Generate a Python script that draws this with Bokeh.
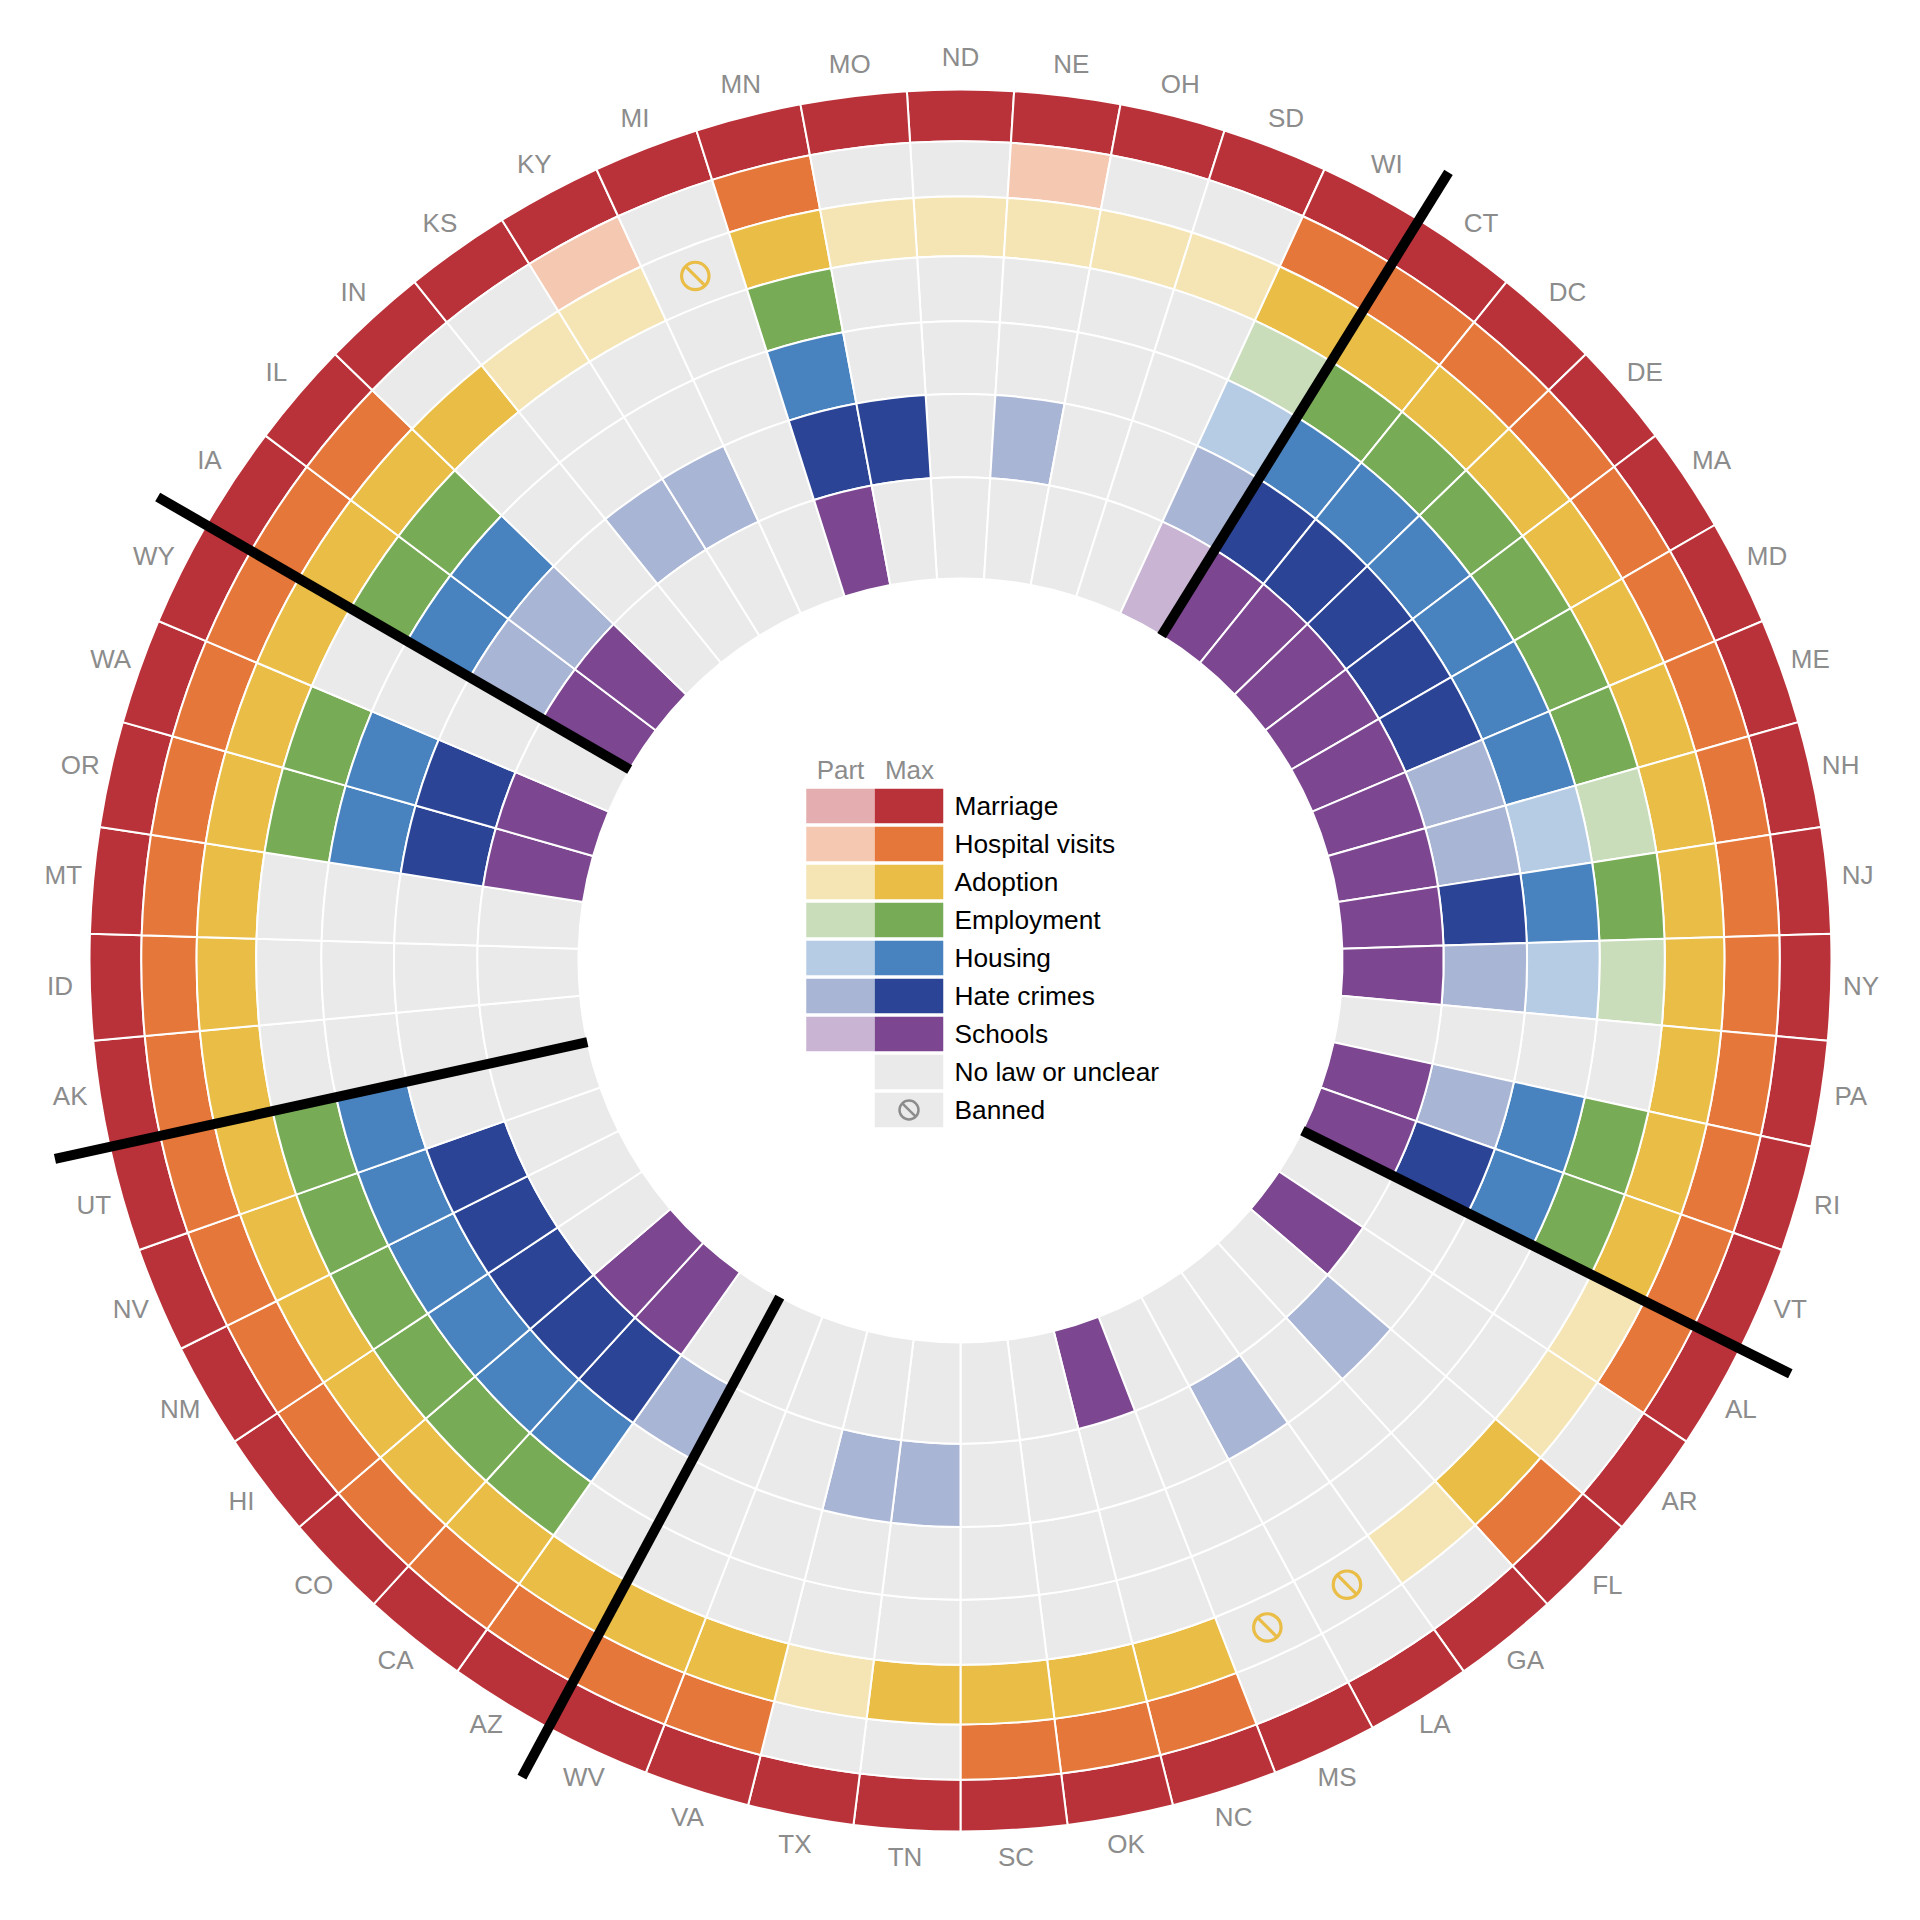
import math
from bokeh.plotting import figure
from bokeh.models import Range1d
from bokeh.core.properties import value
from bokeh.embed import file_html
from bokeh.resources import INLINE

states = ["ND","NE","OH","SD","WI","CT","DC","DE","MA","MD","ME","NH","NJ","NY","PA","RI","VT",
          "AL","AR","FL","GA","LA","MS","NC","OK","SC","TN","TX","VA","WV","AZ","CA","CO","HI",
          "NM","NV","UT","AK","ID","MT","OR","WA","WY","IA","IL","IN","KS","KY","MI","MN","MO"]
# 0 = no law, 1 = part, 2 = max, 3 = banned
marriage = [2]*51
hospital = [0,1,0,0,2,2,2,2,2,2,2,2,2,2,2,2,2, 2,0,2,0,0,0,2,2,2,0,0,2,2,2,2,2,2, 2,2,2,2,2,2,2,2,2,2,2,0,0,1,0,2,0]
adoption = [1,1,1,1,2,2,2,2,2,2,2,2,2,2,2,2,2, 1,1,2,1,3,3,2,2,2,2,1,2,2,2,2,2,2, 2,2,2,2,2,2,2,2,2,2,2,2,1,1,3,2,1]
employment = [0,0,0,0,1,2,2,2,2,2,2,1,2,1,0,2,2, 0,0,0,0,0,0,0,0,0,0,0,0,0,0,2,2,2, 2,2,2,0,0,0,2,2,0,2,2,0,0,0,0,2,0]
housing = [0,0,0,0,1,2,2,2,2,2,2,1,2,1,0,2,2, 0,0,0,0,0,0,0,0,0,0,0,0,0,0,2,2,2, 2,2,2,0,0,0,2,2,0,2,2,0,0,0,0,2,0]
hate_crimes = [0,1,0,0,1,2,2,2,2,2,1,1,2,1,0,1,2, 0,0,1,0,1,0,0,0,0,1,1,0,0,1,2,2,2, 2,2,0,0,0,0,2,2,0,1,1,0,1,1,0,2,2]
schools = [0,0,0,0,1,2,2,2,2,2,2,2,2,2,0,2,2, 0,2,0,0,0,0,2,0,0,0,0,0,0,0,2,2,0, 0,0,0,0,0,0,2,2,0,2,2,0,0,0,0,2,0]
rings = [marriage, hospital, adoption, employment, housing, hate_crimes, schools]
law_names = ["Marriage","Hospital visits","Adoption","Employment","Housing","Hate crimes","Schools"]
max_colors = ["#BA3239","#E5773A","#E9BD46","#78AB55","#4882BF","#2B4495","#7C4790"]
part_colors = ["#E4AEB1","#F5C8B1","#F6E5B4","#C9DDBB","#B6CCE5","#A9B5D5","#C9B5D3"]
none_color = "#EAEAEA"
legend_extra = ["No law or unclear","Banned"]
region_ends = ["WI","VT","WV","UT","WY"]

SIZE = 1904
FONT = value("Liberation Sans")
R_IN, R_OUT = 382, 871
N = len(states)
STEP = 2*math.pi/N

def ring_radius(i):  # i counted from the outside; rings have equal area
    return math.sqrt(R_OUT**2 - (R_OUT**2 - R_IN**2)*i/7)

p = figure(width=SIZE, height=SIZE, output_backend="svg", toolbar_location=None,
           x_range=Range1d(-960, SIZE-960), y_range=Range1d(960-SIZE, 960),
           min_border=0, outline_line_color=None, background_fill_color="white",
           border_fill_color="white")
p.axis.visible = False
p.grid.visible = False

def theta(k):  # k in columns, clockwise from the top
    return math.pi/2 - k*STEP

inner, outer, start, end, color = [], [], [], [], []
for ri, ring in enumerate(rings):
    for si, v in enumerate(ring):
        outer.append(ring_radius(ri))
        inner.append(ring_radius(ri+1))
        start.append(theta(si+0.5))
        end.append(theta(si-0.5))
        color.append(max_colors[ri] if v == 2 else part_colors[ri] if v == 1 else none_color)
p.annular_wedge(x=0, y=0, inner_radius=inner, outer_radius=outer, start_angle=start, end_angle=end,
                fill_color=color, line_color="white", line_width=2)

# banned icons
bx, by, bc = [], [], []
for ri, ring in enumerate(rings):
    for si, v in enumerate(ring):
        if v == 3:
            r = (ring_radius(ri)+ring_radius(ri+1))/2
            bx.append(r*math.cos(theta(si)))
            by.append(r*math.sin(theta(si)))
            bc.append(max_colors[ri])
p.circle(x=bx, y=by, radius=13.7, fill_color=None, line_color=bc, line_width=3.2)
p.segment(x0=[x-9.7 for x in bx], y0=[y+9.7 for y in by], x1=[x+9.7 for x in bx], y1=[y-9.7 for y in by],
          line_color=bc, line_width=3.2)

# region separators
xs0, ys0, xs1, ys1 = [], [], [], []
for s in region_ends:
    t = theta(states.index(s)+0.5)
    xs0.append(382*math.cos(t)); ys0.append(382*math.sin(t))
    xs1.append(927*math.cos(t)); ys1.append(927*math.sin(t))
p.segment(x0=xs0, y0=ys0, x1=xs1, y1=ys1, line_color="black", line_width=10, line_cap="butt")

# state labels
LABEL_R = 901
p.text(x=[LABEL_R*math.cos(theta(i)) for i in range(N)], y=[LABEL_R*math.sin(theta(i)) + 2.5 for i in range(N)],
       text=states, text_font=FONT, text_font_size="26px", text_color="#8C8C8C",
       text_align="center", text_baseline="middle")

# legend (positions relative to the centre of the wheel)
def ly(i):
    return 960 - (805.5 + 38*i)
n_law = len(law_names)
p.rect(x=[840-960]*n_law, y=[ly(i) for i in range(n_law)], width=68.5, height=34.3,
       fill_color=part_colors, line_color=None)
p.rect(x=[908.5-960]*n_law, y=[ly(i) for i in range(n_law)], width=68.5, height=34.3,
       fill_color=max_colors, line_color=None)
p.rect(x=[908.5-960]*2, y=[ly(n_law), ly(n_law+1)], width=68.5, height=34.3,
       fill_color=none_color, line_color=None)
p.circle(x=[908.5-960], y=[ly(n_law+1)], radius=9.5, fill_color=None, line_color="#8C8C8C", line_width=2.5)
p.segment(x0=[908.5-960-6.7], y0=[ly(n_law+1)+6.7], x1=[908.5-960+6.7], y1=[ly(n_law+1)-6.7],
          line_color="#8C8C8C", line_width=2.5)
legend_labels = law_names + legend_extra
p.text(x=[954-960]*len(legend_labels), y=[ly(i) for i in range(len(legend_labels))], text=legend_labels,
       text_font=FONT, text_font_size="26.3px", text_color="black",
       text_align="left", text_baseline="middle")
p.text(x=[840-960, 909-960], y=[960-769]*2, text=["Part","Max"],
       text_font=FONT, text_font_size="26px", text_color="#8C8C8C",
       text_align="center", text_baseline="middle")

open("out.html", "w").write(file_html(p, INLINE))
